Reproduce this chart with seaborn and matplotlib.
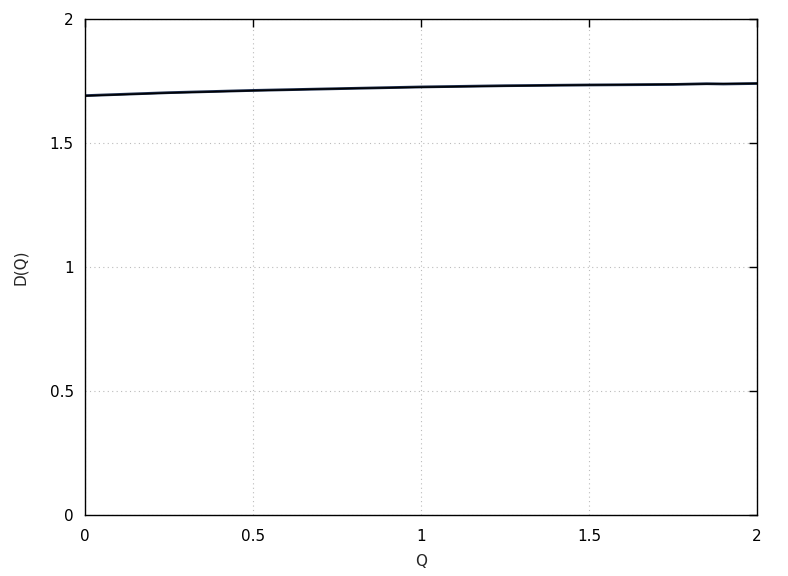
import matplotlib
matplotlib.use("Agg")
import matplotlib.pyplot as plt
import seaborn as sns
import pandas as pd

sns.set_style("white")
plt.rcParams['font.family'] = ['DejaVu Sans']

q_values = [0.0, 0.25, 0.5, 0.75, 1.0, 1.25, 1.5, 1.75, 1.85, 1.9, 2.0]
d_fit = [1.690, 1.702, 1.711, 1.719, 1.725, 1.730, 1.734, 1.737, 1.738, 1.739, 1.740]
d_data = [1.691, 1.703, 1.712, 1.719, 1.726, 1.731, 1.734, 1.736, 1.739, 1.738, 1.740]

df_fit = pd.DataFrame({"Q": q_values, "D": d_fit})
df_data = pd.DataFrame({"Q": q_values, "D": d_data})

fig = plt.figure(figsize=(7.88, 5.76), dpi=100)
ax = fig.add_axes([85/788, 61/576, 672/788, 496/576])

sns.lineplot(data=df_data, x="Q", y="D", ax=ax, color="#1a2a4a", lw=2.0)
sns.lineplot(data=df_fit, x="Q", y="D", ax=ax, color="black", lw=1.0)

ax.set_xlim(0, 2)
ax.set_ylim(0, 2)
ax.set_xticks([0, 0.5, 1, 1.5, 2])
ax.set_xticklabels(["0", "0.5", "1", "1.5", "2"])
ax.set_yticks([0, 0.5, 1, 1.5, 2])
ax.set_yticklabels(["0", "0.5", "1", "1.5", "2"])
ax.grid(True, color="#bbbbbb", linestyle=(0, (1, 3)), lw=0.8)
ax.tick_params(direction="in", length=6, width=1, top=True, right=True,
               labelsize=11, colors="black")
ax.tick_params(axis="x", pad=10)
ax.tick_params(axis="y", pad=8)
for s in ax.spines.values():
    s.set_color("black")
    s.set_linewidth(1.0)
ax.set_xlabel("Q", fontsize=11, labelpad=7)
ax.set_ylabel("D(Q)", fontsize=11, labelpad=16)

fig.savefig("out.png", dpi=100)
